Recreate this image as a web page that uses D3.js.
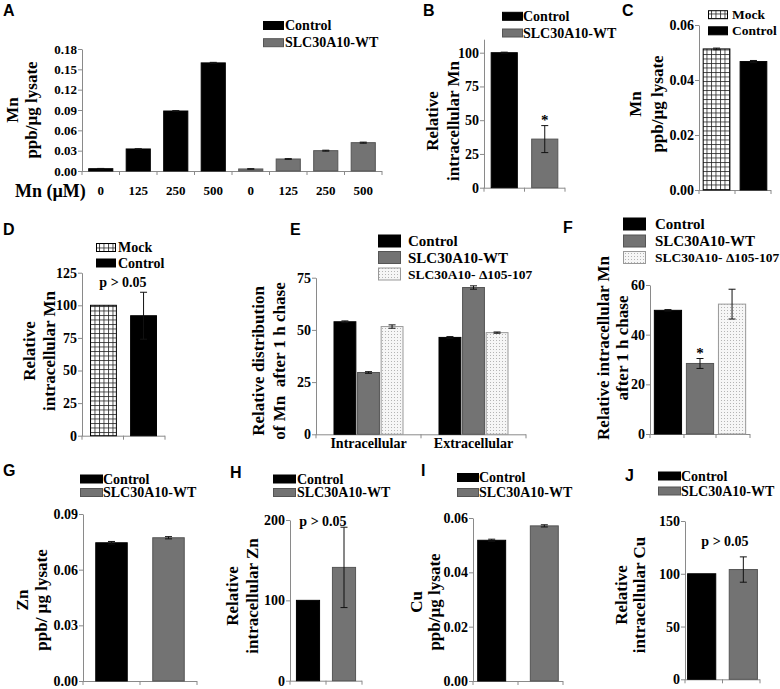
<!DOCTYPE html>
<html>
<head>
<meta charset="utf-8">
<script src="https://cdn.jsdelivr.net/npm/d3@7"></script>
<style>
body { margin: 0; background: #fff; }
text { font-family: "Liberation Serif", "Times New Roman", serif; font-weight: bold; fill: #000; }
.letter { font-family: "Liberation Sans", Arial, sans-serif; font-size: 16px; }
</style>
</head>
<body>
<div class="vis"></div>
<script>

//  DATA  //

// A - Mn uptake by dose
var aGroups = ["Control", "SLC30A10-WT"];
var aDoses = ["0", "125", "250", "500"];
var aControl = [0.0034, 0.0325, 0.0885, 0.1595];
var aControlErr = [0.0004, 0.0003, 0.0006, 0.0008];
var aWT = [0.0030, 0.0177, 0.0300, 0.0418];
var aWTErr = [0.0003, 0.0005, 0.0007, 0.0008];

// B - relative intracellular Mn
var bGroups = ["Control", "SLC30A10-WT"];
var bValues = [100, 36];
var bErr = [0.4, 10];

// C - Mock vs Control
var cGroups = ["Mock", "Control"];
var cValues = [0.0513, 0.0467];
var cErr = [0.0003, 0.0004];

// D
var dGroups = ["Mock", "Control"];
var dValues = [100, 92];
var dErr = [0, 18];

// E - distribution after chase
var eCompartments = ["Intracellular", "Extracellular"];
var eSeries = ["Control", "SLC30A10-WT", "SLC30A10- \u0394105-107"];
var eControl = [53.9, 46.4];
var eWT = [29.6, 70.3];
var eMut = [51.6, 48.7];
var eControlErr = [0.4, 0.4];
var eWTErr = [0.4, 0.8];
var eMutErr = [0.8, 0.3];

// F
var fGroups = ["Control", "SLC30A10-WT", "SLC30A10- \u0394105-107"];
var fValues = [49.8, 28.4, 52.3];
var fErr = [0.3, 2, 6];

// G - Zn
var gValues = [0.0745, 0.0772];
var gErr = [0.0007, 0.0006];
// H
var hValues = [100, 141];
var hErr = [0, 50];
// I - Cu
var iValues = [0.0518, 0.0571];
var iErr = [0.0004, 0.0004];
// J
var jValues = [100, 104];
var jErr = [0, 12];

var pairGroups = ["Control", "SLC30A10-WT"];


//  SVG  //

var svg = d3.select(".vis").append("svg")
	.attr("width", 780)
	.attr("height", 689);

var defs = svg.append("defs");

// checkered "Mock" fill
var grid = defs.append("pattern").attr("id", "grid")
	.attr("width", 4.5).attr("height", 4.5)
	.attr("patternUnits", "userSpaceOnUse");
grid.append("rect").attr("width", 4.5).attr("height", 4.5).attr("fill", "#fff");
grid.append("path").attr("d", "M0,0.5H4.5M0.5,0V4.5")
	.attr("stroke", "#222").attr("stroke-width", 0.8);

// dotted mutant fill
var dots = defs.append("pattern").attr("id", "dots")
	.attr("width", 3).attr("height", 3)
	.attr("patternUnits", "userSpaceOnUse");
dots.append("rect").attr("width", 3).attr("height", 3).attr("fill", "#f6f6f6");
dots.append("rect").attr("x", 1).attr("y", 1).attr("width", 1).attr("height", 1).attr("fill", "#b4b4b4");

var styles = {
	"Control": { fill: "#000", stroke: "#000" },
	"SLC30A10-WT": { fill: "#737373", stroke: "#555" },
	"Mock": { fill: "url(#grid)", stroke: "#000" },
	"SLC30A10- \u0394105-107": { fill: "url(#dots)", stroke: "#999" }
};

var axisColour = "#8a8a8a";


//  HELPERS  //

var yAxis = function(y, xPos, ticks, fmt, size) {
	var g = svg.append("g")
		.attr("transform", "translate(" + xPos + ",0)")
		.call(d3.axisLeft(y).tickValues(ticks).tickFormat(fmt).tickSize(4).tickSizeOuter(0));
	g.select(".domain").attr("stroke", axisColour);
	g.selectAll(".tick line").attr("stroke", axisColour);
	g.selectAll(".tick text")
		.attr("x", -5)
		.attr("fill", "#000")
		.style("font-family", "Liberation Serif, serif")
		.style("font-weight", "bold")
		.style("font-size", (size || 14) + "px");
};

// baseline with Excel-style ticks between categories
var xBase = function(x, y) {
	var r = x.range(), cats = x.domain(), bw = x.bandwidth();
	var bounds = [r[0]];
	for (var i = 1; i < cats.length; i++) {
		bounds.push((x(cats[i - 1]) + bw + x(cats[i])) / 2);
	}
	bounds.push(r[1]);
	svg.append("line")
		.attr("x1", r[0]).attr("x2", r[1])
		.attr("y1", y(0) + 0.5).attr("y2", y(0) + 0.5)
		.attr("stroke", axisColour);
	svg.selectAll(null).data(bounds).join("line")
		.attr("x1", function(d) { return d; })
		.attr("x2", function(d) { return d; })
		.attr("y1", y(0)).attr("y2", y(0) + 4)
		.attr("stroke", axisColour);
};

var bars = function(data, x, y, offset) {
	offset = offset || function() { return 0; };
	var w = data.bw || x.bandwidth();
	svg.selectAll(null).data(data).join("rect")
		.attr("x", function(d) { return offset(d) + x(d.cat) + 0.5; })
		.attr("y", function(d) { return y(d.v); })
		.attr("width", w - 1)
		.attr("height", function(d) { return y(0) - y(d.v); })
		.attr("fill", function(d) { return styles[d.style].fill; })
		.attr("stroke", function(d) { return styles[d.style].stroke; })
		.attr("stroke-width", 1);

	// error bars
	var eb = svg.selectAll(null).data(data.filter(function(d) { return d.e > 0; })).join("g")
		.attr("transform", function(d) { return "translate(" + (offset(d) + x(d.cat) + w / 2) + ",0)"; })
		.attr("stroke", "#111").attr("stroke-width", 1);
	eb.append("line")
		.attr("y1", function(d) { return y(d.v + d.e); })
		.attr("y2", function(d) { return y(d.v - d.e); });
	eb.append("line").attr("x1", -3.5).attr("x2", 3.5)
		.attr("y1", function(d) { return y(d.v + d.e); })
		.attr("y2", function(d) { return y(d.v + d.e); });
	eb.append("line").attr("x1", -3.5).attr("x2", 3.5)
		.attr("y1", function(d) { return y(d.v - d.e); })
		.attr("y2", function(d) { return y(d.v - d.e); });
};

var yTitle = function(lines, cy, size) {
	lines.forEach(function(l) {
		svg.append("text")
			.attr("transform", "translate(" + l[1] + "," + cy + ") rotate(-90)")
			.attr("text-anchor", "middle")
			.attr("dominant-baseline", "central")
			.style("font-size", (size || 17) + "px")
			.style("white-space", "pre")
			.text(l[0]);
	});
};

var legend = function(names, sx, sw, sh, centers, tx, size, smallLast) {
	names.forEach(function(n, i) {
		svg.append("rect")
			.attr("x", sx + 0.5).attr("y", centers[i] - sh / 2)
			.attr("width", sw).attr("height", sh)
			.attr("fill", styles[n].fill)
			.attr("stroke", styles[n].stroke);
		svg.append("text")
			.attr("x", tx).attr("y", centers[i])
			.attr("dominant-baseline", "central")
			.style("font-size", (smallLast && i === names.length - 1 ? size - 1.5 : size) + "px")
			.text(n);
	});
};

var note = function(txt, x, y, size) {
	svg.append("text").attr("x", x).attr("y", y)
		.attr("text-anchor", "middle")
		.style("font-size", (size || 14) + "px")
		.text(txt);
};

var letter = function(l, x, y) {
	svg.append("text").attr("class", "letter").attr("x", x).attr("y", y).text(l);
};

var pairs = function(groups, values, errs) {
	return groups.map(function(g, i) { return { cat: g, style: g, v: values[i], e: errs[i] }; });
};

var f2 = d3.format(".2f");


//  PANEL A  //

var aBars = [];
aGroups.forEach(function(g, gi) {
	aDoses.forEach(function(d, di) {
		aBars.push({
			cat: g + "|" + d, dose: d, style: g,
			v: gi ? aWT[di] : aControl[di],
			e: gi ? aWTErr[di] : aControlErr[di]
		});
	});
});
var aX = d3.scaleBand().domain(aBars.map(function(d) { return d.cat; }))
	.range([82, 382]).paddingInner(0.33).paddingOuter(0.165);
var aY = d3.scaleLinear().domain([0, 0.18]).range([171, 49]);
yAxis(aY, 82, d3.range(0, 0.19, 0.03), f2, 13);
xBase(aX, aY);
bars(aBars, aX, aY);
svg.selectAll(null).data(aBars).join("text")
	.attr("x", function(d) { return aX(d.cat) + aX.bandwidth() / 2; })
	.attr("y", 195)
	.attr("text-anchor", "middle")
	.style("font-size", "13px")
	.text(function(d) { return d.dose; });
svg.append("text").attr("x", 15).attr("y", 197).style("font-size", "18px").text("Mn (\u00b5M)");
yTitle([["Mn", 12], ["ppb/\u00b5g lysate", 31]], 110);
legend(aGroups, 263, 20, 8, [25.5, 42.7], 285, 14);
letter("A", 3, 16);


//  PANEL B  //

var bX = d3.scaleBand().domain(bGroups).range([484, 565]).paddingInner(0.33).paddingOuter(0.165);
var bY = d3.scaleLinear().domain([0, 110]).range([187.7, 39.2]);
yAxis(bY, 484, [0, 25, 50, 75, 100], d3.format("d"));
xBase(bX, bY);
bars(pairs(bGroups, bValues, bErr), bX, bY);
note("*", bX(bGroups[1]) + bX.bandwidth() / 2, bY(bValues[1] + bErr[1]) - 1, 15);
yTitle([["Relative", 432], ["intracellular Mn", 453]], 121);
legend(bGroups, 502, 20, 8, [16.3, 33], 523, 14);
letter("B", 423, 16);


//  PANEL C  //

var cX = d3.scaleBand().domain(cGroups).range([699, 771]).paddingInner(0.25).paddingOuter(0.1);
var cY = d3.scaleLinear().domain([0, 0.06]).range([190, 25]);
yAxis(cY, 699, [0, 0.02, 0.04, 0.06], f2);
xBase(cX, cY);
bars(pairs(cGroups, cValues, cErr), cX, cY);
yTitle([["Mn", 635], ["ppb/\u00b5g lysate", 657]], 104);
legend(cGroups, 708, 19, 8, [14.7, 30.8], 732, 13.5);
letter("C", 622, 16);


//  PANEL D  //

var dX = d3.scaleBand().domain(dGroups).range([82, 165]).paddingInner(0.33).paddingOuter(0.2);
var dY = d3.scaleLinear().domain([0, 125]).range([435.7, 272.7]);
yAxis(dY, 82, d3.range(0, 126, 25), d3.format("d"));
xBase(dX, dY);
bars(pairs(dGroups, dValues, dErr), dX, dY);
note("p > 0.05", 123, 287);
yTitle([["Relative", 29], ["intracellular Mn", 49]], 351);
legend(dGroups, 96, 19, 8, [247.5, 263], 118, 14);
letter("D", 3, 235);


//  PANEL E  //

var eX = d3.scaleBand().domain(eCompartments).range([316, 526]).paddingInner(1 / 3).paddingOuter(1 / 6);
var eInner = d3.scaleBand().domain(eSeries).range([0, eX.bandwidth()]).paddingInner(0.03);
var eY = d3.scaleLinear().domain([0, 75]).range([434.3, 277.7]);
var eBars = [];
eCompartments.forEach(function(c, ci) {
	eBars.push({ cat: c, style: eSeries[0], v: eControl[ci], e: eControlErr[ci] });
	eBars.push({ cat: c, style: eSeries[1], v: eWT[ci], e: eWTErr[ci] });
	eBars.push({ cat: c, style: eSeries[2], v: eMut[ci], e: eMutErr[ci] });
});
eBars.bw = eInner.bandwidth();
yAxis(eY, 316, [0, 25, 50, 75], d3.format("d"));
xBase(eX, eY);
bars(eBars, eX, eY, function(d) { return eInner(d.style); });
svg.selectAll(null).data(eCompartments).join("text")
	.attr("x", function(d) { return eX(d) + eX.bandwidth() / 2; })
	.attr("y", 448)
	.attr("text-anchor", "middle")
	.style("font-size", "14px")
	.text(function(d) { return d; });
yTitle([["Relative distribution", 258], ["of Mn  after 1 h chase", 279]], 361);
legend(eSeries, 378, 22, 12, [241, 257.5, 274], 408, 15, true);
letter("E", 290, 235);


//  PANEL F  //

var fX = d3.scaleBand().domain(fGroups).range([650, 750]).paddingInner(0.12).paddingOuter(0.12);
var fY = d3.scaleLinear().domain([0, 60]).range([434, 285]);
yAxis(fY, 650, [0, 20, 40, 60], d3.format("d"));
xBase(fX, fY);
bars(pairs(fGroups, fValues, fErr), fX, fY);
note("*", fX(fGroups[1]) + fX.bandwidth() / 2, fY(fValues[1] + fErr[1]) - 1, 15);
yTitle([["Relative intracellular Mn", 603], ["after 1 h chase", 622]], 348);
legend(fGroups, 623, 22, 12, [224, 241, 257.5], 655, 15, true);
letter("F", 563, 233);


//  PANEL G  //

var gX = d3.scaleBand().domain(pairGroups).range([83, 197]).paddingInner(0.43).paddingOuter(0.215);
var gY = d3.scaleLinear().domain([0, 0.09]).range([681, 514]);
yAxis(gY, 83, [0, 0.03, 0.06, 0.09], f2);
xBase(gX, gY);
bars(pairs(pairGroups, gValues, gErr), gX, gY);
yTitle([["Zn", 22], ["ppb/ \u00b5g lysate", 41]], 600);
legend(pairGroups, 80, 22, 8, [479, 492.5], 103, 14);
letter("G", 3, 476);


//  PANEL H  //

var hX = d3.scaleBand().domain(pairGroups).range([290, 362]).paddingInner(0.33).paddingOuter(0.165);
var hY = d3.scaleLinear().domain([0, 200]).range([680.7, 520]);
yAxis(hY, 290, [0, 100, 200], d3.format("d"));
xBase(hX, hY);
bars(pairs(pairGroups, hValues, hErr), hX, hY);
note("p > 0.05", 323, 526);
yTitle([["Relative", 232], ["intracellular Zn", 252]], 596);
legend(pairGroups, 273, 22, 8, [479, 492.5], 297, 14);
letter("H", 230, 478);


//  PANEL I  //

var iX = d3.scaleBand().domain(pairGroups).range([473, 563]).paddingInner(0.45).paddingOuter(0.08);
var iY = d3.scaleLinear().domain([0, 0.06]).range([681, 518]);
yAxis(iY, 473, [0, 0.02, 0.04, 0.06], f2);
xBase(iX, iY);
bars(pairs(pairGroups, iValues, iErr), iX, iY);
yTitle([["Cu", 416], ["ppb/\u00b5g lysate", 434]], 602);
legend(pairGroups, 457, 21, 8, [477.5, 492.5], 479, 14);
letter("I", 421, 476);


//  PANEL J  //

var jX = d3.scaleBand().domain(pairGroups).range([685, 760]).paddingInner(0.3).paddingOuter(0.05);
var jY = d3.scaleLinear().domain([0, 150]).range([679.3, 521]);
yAxis(jY, 685, [0, 50, 100, 150], d3.format("d"));
xBase(jX, jY);
bars(pairs(pairGroups, jValues, jErr), jX, jY);
note("p > 0.05", 725, 546);
yTitle([["Relative", 621], ["intracellular Cu", 639]], 595);
legend(pairGroups, 658, 22, 8, [476, 491], 681, 14);
letter("J", 625, 481);

</script>
</body>
</html>
